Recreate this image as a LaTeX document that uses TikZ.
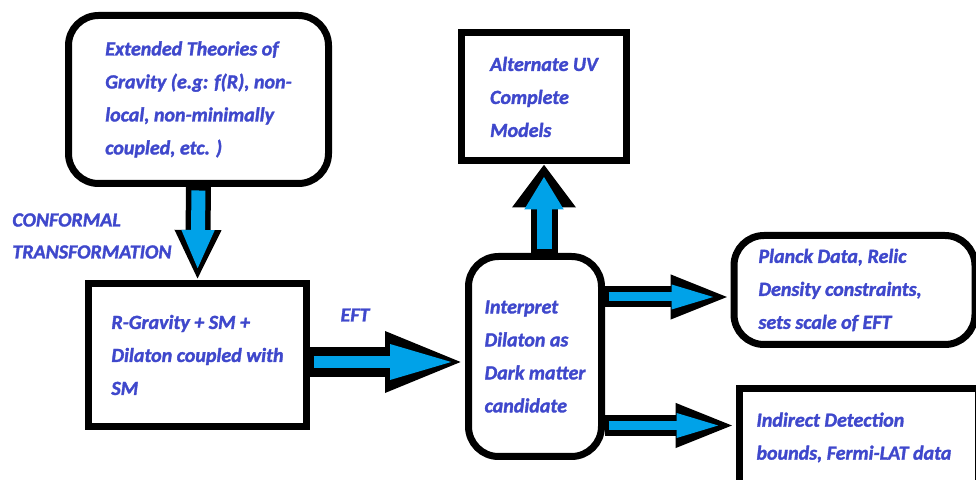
\documentclass[tikz,border=0pt]{standalone}
\usepackage{fontspec}
\setmainfont{Carlito}[BoldItalicFeatures={FakeBold=1.6}]
\usetikzlibrary{arrows.meta,calc}
\definecolor{paintblue}{RGB}{0,162,232}
\definecolor{inkblue}{RGB}{63,72,204}
\tikzset{
	box/.style={draw, line width=3.5pt, fill=white, align=left, inner sep=0pt,
			text=inkblue, font=\fontsize{10}{16.5}\selectfont\bfseries\itshape},
	roundbox/.style={box, rounded corners=15pt},
	label/.style={align=left, inner sep=0pt, text=inkblue,
			font=\fontsize{10}{16}\selectfont\bfseries\itshape},
}
\begin{document}
\begin{tikzpicture}[x=0.5pt,y=-0.5pt]
			\useasboundingbox (0,0) rectangle (976,480);
			\clip (0,0) rectangle (976,480);

			% boxes
			\node[roundbox, minimum width=130pt, minimum height=84pt] (ext) at (198.5,99.5)
				{Extended Theories of\\Gravity (e.g: f(R), non-\\local, non-minimally\\coupled, etc. )};
			\node[box, minimum width=109pt, minimum height=71.5pt] (rg) at (197.5,355)
				{R-Gravity + SM +\\Dilaton coupled with\\SM};
			\node[box, minimum width=82.5pt, minimum height=64pt] (uv) at (544,97)
				{Alternate UV\\Complete\\Models};
			\node[roundbox, minimum width=66.5pt, minimum height=100pt] (dm) at (535,356.5)
				{Interpret\\Dilaton as\\Dark matter\\candidate};
			\node[roundbox, rounded corners=15pt, anchor=west, text width=96pt, inner xsep=12.25pt,
				minimum height=54.5pt, align=flush left] (pl) at (730.5,290)
				{Planck Data, Relic\\Density constraints,\\sets scale of EFT};
			\node[box, anchor=west, text width=102pt, inner xsep=8.75pt,
				minimum height=49pt, align=flush left] (ind) at (735.5,437.5)
				{Indirect Detection\\bounds, Fermi-LAT data};

			% labels
			\node[label, anchor=west] (conf) at (12,236) {CONFORMAL\\TRANSFORMATION};
			\node[label] (eft) at (355,315) {EFT};

			% fat arrows
			\draw[line width=12.5pt, -{Triangle[length=25pt,width=21.5pt]}] (ext.south) -- (rg.north);
			\draw[paintblue, line width=7pt, shorten <=1.75pt, shorten >=5pt,
				-{Triangle[length=20pt,width=15pt]}] (ext.south) -- (rg.north);

			\coordinate (e1) at ($(rg.east)+(0,7)$);
			\draw[line width=15pt, -{Triangle[length=40pt,width=27.5pt]}] (e1) -- (e1 -| dm.west);
			\draw[paintblue, line width=6pt, shorten <=1.75pt, shorten >=5pt,
				-{Triangle[length=32.5pt,width=16pt]}] (e1) -- (e1 -| dm.west);

			\draw[line width=13.5pt, -{Triangle[length=21.5pt,width=30.5pt]}] (uv.south |- dm.north) -- (uv.south);
			\draw[paintblue, line width=7.5pt, shorten <=1.75pt, shorten >=6pt,
				-{Triangle[length=16.5pt,width=18.5pt]}] (uv.south |- dm.north) -- (uv.south);

			\coordinate (p1) at ($(pl.west)+(0,7)$);
			\draw[line width=10.5pt, -{Triangle[length=30pt,width=20pt]}] (p1 -| dm.east) -- (p1);
			\draw[paintblue, line width=4.5pt, shorten <=1.75pt, shorten >=7pt,
				-{Triangle[length=22.5pt,width=11pt]}] (p1 -| dm.east) -- (p1);

			\coordinate (i1) at ($(ind.west)+(0,-12)$);
			\draw[line width=10.5pt, -{Triangle[length=30pt,width=20pt]}] (i1 -| dm.east) -- (i1);
			\draw[paintblue, line width=4.5pt, shorten <=1.75pt, shorten >=7pt,
				-{Triangle[length=22.5pt,width=11pt]}] (i1 -| dm.east) -- (i1);
		\end{tikzpicture}
\end{document}
